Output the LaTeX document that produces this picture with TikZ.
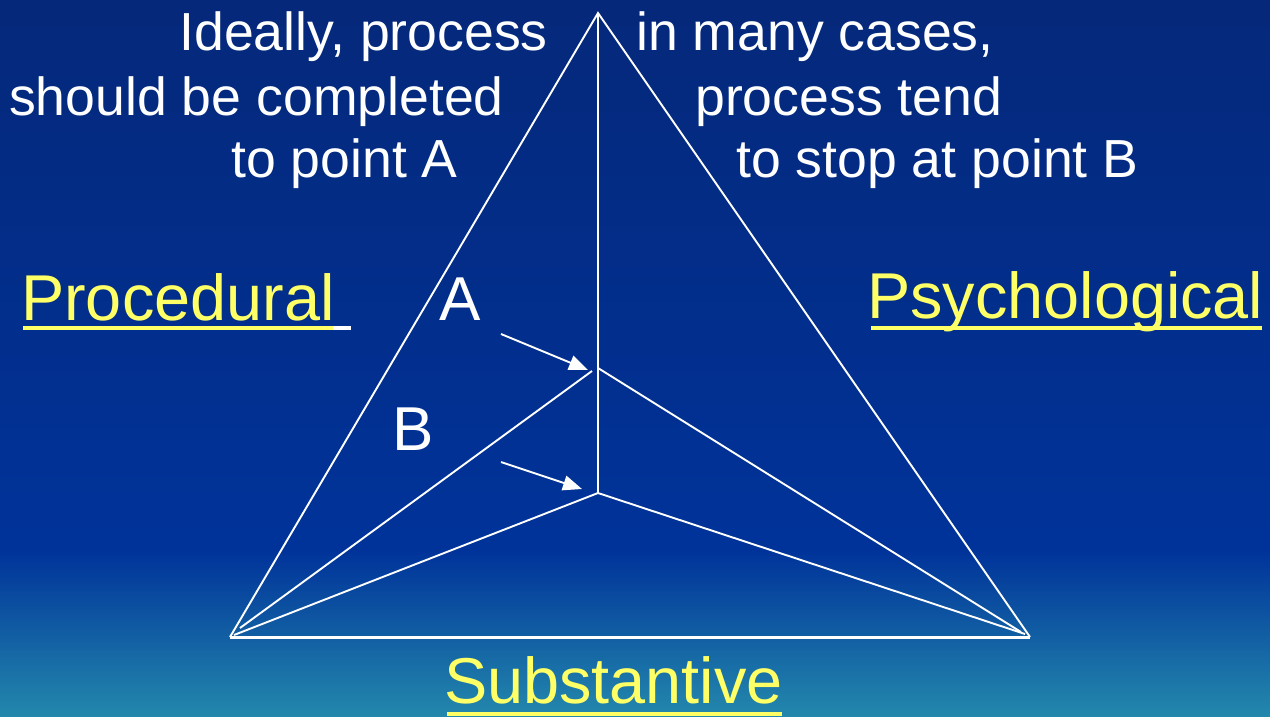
\documentclass[tikz,border=0pt]{standalone}
\usepackage{fontspec}
\setmainfont{Liberation Sans}
\usetikzlibrary{arrows.meta}
\definecolor{bgtop}{HTML}{05287A}
\definecolor{bgmid}{HTML}{00339A}
\definecolor{bgbot}{HTML}{2388AC}
\definecolor{labelyellow}{HTML}{FFFF66}

\begin{document}
\begin{tikzpicture}[x=1pt, y=-1pt,
  edge/.style={white, line width=1.9pt, line join=miter},
  baseedge/.style={white, line width=3pt},
  pointer/.style={white, line width=1.9pt, -{Triangle[length=19pt, width=15pt]}},
  note/.style={white, inner sep=0pt, font=\fontsize{53.6}{60}\selectfont},
  corner/.style={labelyellow, inner sep=0pt, font=\fontsize{64.8}{72}\selectfont},
  letter/.style={white, inner sep=0pt, font=\fontsize{62}{70}\selectfont},
  uline/.style={labelyellow, line width=4pt}]

% background gradient
\shade[top color=bgtop, bottom color=bgmid] (0,0) rectangle (1270,552);
\shade[top color=bgmid, bottom color=bgbot] (0,551) rectangle (1270,716);
\useasboundingbox (0,0) rectangle (1270,716);

% vertices of the pyramid
\coordinate (apex)  at (598,13);
\coordinate (left)  at (230,637);
\coordinate (right) at (1030,637);
\coordinate (ptA)   at (598,368);
\coordinate (ptAl)  at (592,371);
\coordinate (ptB)   at (598,493);
\coordinate (aL)    at (240,628);
\coordinate (aR)    at (1021,632);
\coordinate (bL)    at (234,635);
\coordinate (bR)    at (1025,634);

% outline and inner edges
\draw[edge] (left) -- (apex) -- (right);
\draw[baseedge] (left) -- (right);
\draw[edge] (apex) -- (ptB);
\draw[edge] (ptAl) -- (aL);
\draw[edge] (ptA) -- (aR);
\draw[edge] (ptB) -- (bL);
\draw[edge] (ptB) -- (bR);

% pointers to points A and B
\coordinate (tailA) at (501,334);
\coordinate (headA) at (588,370);
\coordinate (tailB) at (501,462);
\coordinate (headB) at (582,489);
\draw[pointer] (tailA) -- (headA);
\draw[pointer] (tailB) -- (headB);

% annotations
\node[note, anchor=base east] (ideal1) at (548,50) {Ideally, process};
\node[note, anchor=base east] (ideal2) at (504,115) {should be completed};
\node[note, anchor=base east] (ideal3) at (458,177) {to point A};
\node[note, anchor=base west] (real1) at (636,50) {in many cases,};
\node[note, anchor=base west] (real2) at (695,115) {process tend};
\node[note, anchor=base west] (real3) at (736,177) {to stop at point B};

\node[letter, anchor=base west] (lblA) at (439,320) {A};
\node[letter, anchor=base west] (lblB) at (392,450) {B};

% corner labels
\node[corner, anchor=base west] (proc) at (21,320) {Procedural};
\draw[uline] (23,328) -- (333,328);
\draw[white, line width=4pt] (333,328) -- (351,328);
\node[corner, anchor=base west] (psych) at (867,318) {Psychological};
\draw[uline] (871,328) -- (1262,328);
\node[corner, anchor=base west] (subst) at (444,703) {Substantive};
\draw[uline] (447,714) -- (782,714);
\end{tikzpicture}
\end{document}
